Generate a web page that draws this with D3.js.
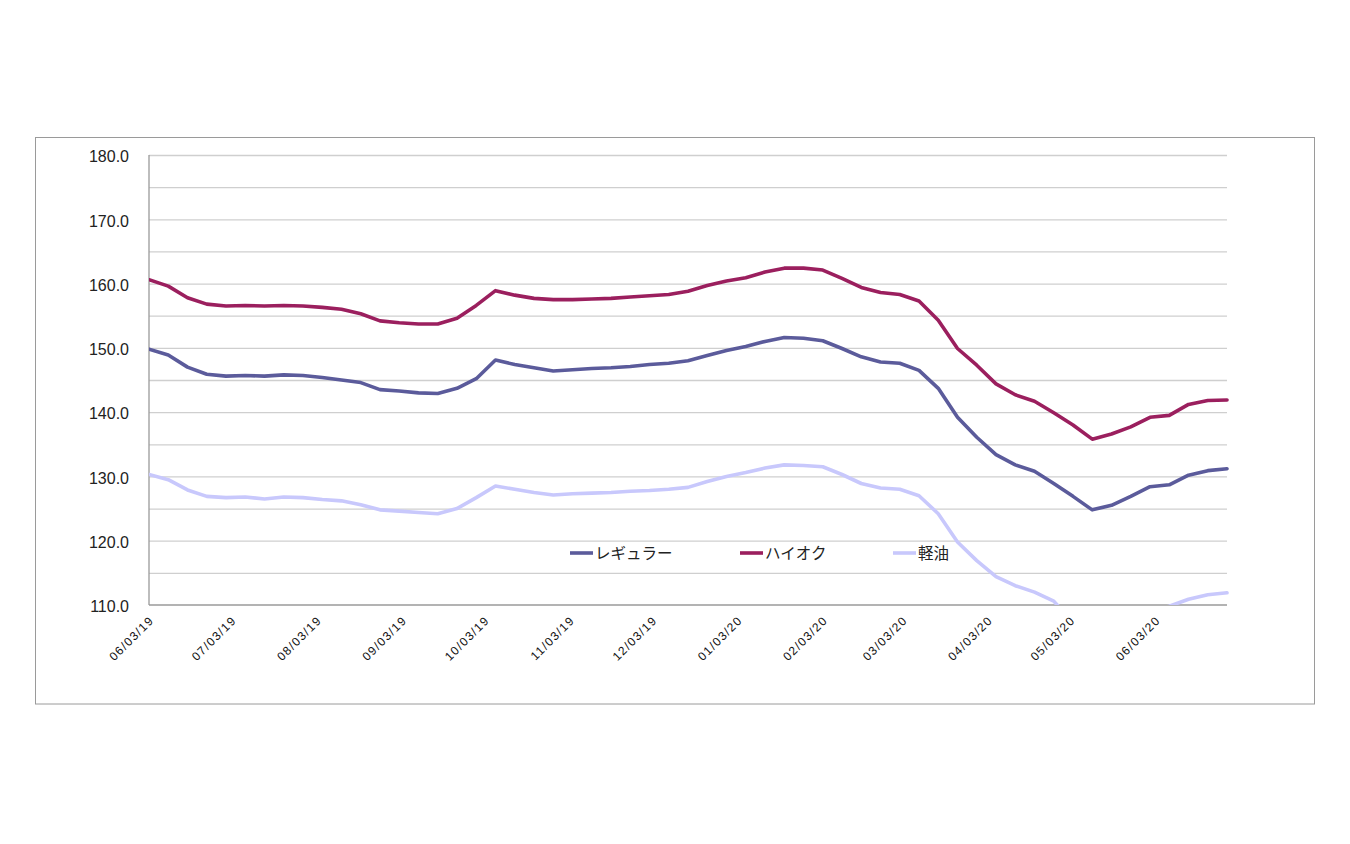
<!DOCTYPE html>
<html>
<head>
<meta charset="utf-8">
<script src="https://cdn.jsdelivr.net/npm/d3@7"></script>
<style>
  html, body { margin: 0; padding: 0; background: #fff; }
  svg { display: block; }
</style>
</head>
<body>
<svg id="chart" width="1350" height="844"></svg>
<script>
// ---- data ----
const dates = [
  "2019-06-03","2019-06-10","2019-06-17","2019-06-24",
  "2019-07-01","2019-07-08","2019-07-15","2019-07-22","2019-07-29",
  "2019-08-05","2019-08-12","2019-08-19","2019-08-26",
  "2019-09-02","2019-09-09","2019-09-16","2019-09-23","2019-09-30",
  "2019-10-07","2019-10-14","2019-10-21","2019-10-28",
  "2019-11-04","2019-11-11","2019-11-18","2019-11-25",
  "2019-12-02","2019-12-09","2019-12-16","2019-12-23","2019-12-30",
  "2020-01-06","2020-01-13","2020-01-20","2020-01-27",
  "2020-02-03","2020-02-10","2020-02-17","2020-02-24",
  "2020-03-02","2020-03-09","2020-03-16","2020-03-23","2020-03-30",
  "2020-04-06","2020-04-13","2020-04-20","2020-04-27",
  "2020-05-04","2020-05-11","2020-05-18","2020-05-25",
  "2020-06-01","2020-06-08","2020-06-15","2020-06-22","2020-06-29"
];
const regular = [
  149.8,148.9,147.0,145.9,145.6,145.7,145.6,145.8,145.7,145.4,
  145.0,144.6,143.5,143.3,143.0,142.9,143.7,145.2,148.1,147.4,
  146.9,146.4,146.6,146.8,146.9,147.1,147.4,147.6,148.0,148.8,
  149.6,150.2,151.0,151.6,151.5,151.1,149.9,148.6,147.8,147.6,
  146.5,143.7,139.2,136.1,133.4,131.8,130.8,128.9,126.9,124.8,
  125.5,126.9,128.4,128.7,130.2,130.9,131.2
];
const highOctane = [
  160.6,159.6,157.8,156.8,156.5,156.6,156.5,156.6,156.5,156.3,
  156.0,155.3,154.2,153.9,153.7,153.7,154.6,156.6,158.9,158.2,
  157.7,157.5,157.5,157.6,157.7,157.9,158.1,158.3,158.8,159.7,
  160.4,160.9,161.8,162.4,162.4,162.1,160.8,159.4,158.6,158.3,
  157.3,154.3,149.9,147.3,144.4,142.7,141.7,139.9,138.0,135.8,
  136.6,137.7,139.2,139.5,141.2,141.8,141.9
];
const diesel = [
  130.3,129.5,127.9,126.9,126.7,126.8,126.5,126.8,126.7,126.4,
  126.2,125.6,124.8,124.6,124.4,124.2,125.0,126.7,128.5,128.0,
  127.5,127.1,127.3,127.4,127.5,127.7,127.8,128.0,128.3,129.2,
  130.0,130.6,131.3,131.8,131.7,131.5,130.3,128.9,128.2,128.0,
  127.0,124.2,119.8,116.9,114.4,113.0,112.0,110.6,107.3,105.2,
  105.9,107.4,109.0,109.8,110.9,111.6,111.9
];
const seriesNames = ["レギュラー", "ハイオク", "軽油"];
const seriesColors = ["#5b5b9b", "#9b1f5e", "#c8c8fc"];
const yTickValues = [110, 120, 130, 140, 150, 160, 170, 180];
const gridValues = [115, 120, 125, 130, 135, 140, 145, 150, 155, 160, 165, 170, 175, 180];
const xTickLabels = [
  "06/03/19","07/03/19","08/03/19","09/03/19","10/03/19","11/03/19","12/03/19",
  "01/03/20","02/03/20","03/03/20","04/03/20","05/03/20","06/03/20"
];

// ---- layout ----
const svg = d3.select("#chart");
const plot = { left: 149, right: 1227, top: 155, bottom: 605 };

const parseISO = d3.timeParse("%Y-%m-%d");
const parseTick = d3.timeParse("%m/%d/%y");
const fmtTick = d3.timeFormat("%m/%d/%y");
const dateObjs = dates.map(parseISO);

const x = d3.scaleTime()
  .domain([dateObjs[0], dateObjs[dateObjs.length - 1]])
  .range([plot.left, plot.right]);
const y = d3.scaleLinear().domain([110, 180]).range([plot.bottom, plot.top]);

// outer frame
svg.append("rect")
  .attr("x", 35.5).attr("y", 137.5)
  .attr("width", 1279).attr("height", 566.5)
  .attr("fill", "#fff").attr("stroke", "#9a9a9a").attr("stroke-width", 1);

// gridlines
const grid = svg.append("g")
  .attr("transform", `translate(${plot.left},0)`)
  .call(d3.axisLeft(y).tickValues(gridValues)
    .tickSize(-(plot.right - plot.left)).tickFormat(""));
grid.select(".domain").remove();
grid.selectAll(".tick line").attr("stroke", "#cfcfcf").attr("stroke-width", 1.3);

// y axis labels
const yAxis = svg.append("g")
  .attr("transform", `translate(${plot.left},0)`)
  .call(d3.axisLeft(y).tickValues(yTickValues).tickSize(0).tickPadding(20)
    .tickFormat(d3.format(".1f")));
yAxis.select(".domain").remove();
yAxis.selectAll("text")
  .attr("font-family", "'Liberation Sans', Arial, sans-serif")
  .attr("font-size", 16).attr("fill", "#222").attr("dy", "0.42em");

// axis lines
svg.append("line")
  .attr("x1", plot.left).attr("x2", plot.left)
  .attr("y1", plot.top).attr("y2", plot.bottom)
  .attr("stroke", "#9a9a9a").attr("stroke-width", 1.3);
svg.append("line")
  .attr("x1", plot.left).attr("x2", plot.right)
  .attr("y1", plot.bottom).attr("y2", plot.bottom)
  .attr("stroke", "#9a9a9a").attr("stroke-width", 1.3);

// x axis labels
const xTicks = xTickLabels.map(parseTick);
const xAxis = svg.append("g")
  .attr("transform", `translate(0,${plot.bottom})`)
  .call(d3.axisBottom(x).tickValues(xTicks).tickSize(0).tickFormat(fmtTick));
xAxis.select(".domain").remove();
xAxis.selectAll("text")
  .attr("font-family", "'Liberation Sans', Arial, sans-serif")
  .attr("font-size", 12).attr("fill", "#111")
  .attr("letter-spacing", "1.3px")
  .attr("text-anchor", "end")
  .attr("dy", 0)
  .attr("transform", "translate(3,14) rotate(-45)");

// clip
svg.append("clipPath").attr("id", "plotClip")
  .append("rect")
  .attr("x", plot.left).attr("y", plot.top - 5)
  .attr("width", plot.right - plot.left + 5)
  .attr("height", plot.bottom - plot.top + 5);

const seriesData = [regular, highOctane, diesel];
const line = d3.line()
  .x((d, i) => x(dateObjs[i]))
  .y(d => y(d));

const lines = svg.append("g").attr("clip-path", "url(#plotClip)");
[2, 0, 1].forEach(k => {
  lines.append("path")
    .datum(seriesData[k])
    .attr("d", line)
    .attr("fill", "none")
    .attr("stroke", seriesColors[k])
    .attr("stroke-width", 3.6)
    .attr("stroke-linejoin", "round")
    .attr("stroke-linecap", "round");
});

// legend
const legendX = [570, 740, 893];
const legendY = 553;
const legend = svg.append("g");
seriesNames.forEach((name, k) => {
  legend.append("line")
    .attr("x1", legendX[k]).attr("x2", legendX[k] + 23)
    .attr("y1", legendY).attr("y2", legendY)
    .attr("stroke", seriesColors[k]).attr("stroke-width", 3.6);
  legend.append("text")
    .attr("x", legendX[k] + 25).attr("y", legendY)
    .attr("dy", "0.36em")
    .attr("font-family", "'Noto Sans CJK JP', sans-serif")
    .attr("font-size", 15.5).attr("fill", "#222")
    .text(name);
});
</script>
</body>
</html>
